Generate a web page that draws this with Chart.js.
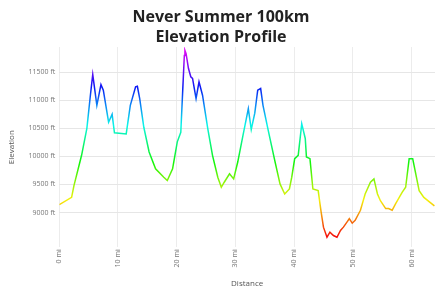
<!DOCTYPE html>
<html>
<head>
<meta charset="utf-8">
<script src="https://cdn.jsdelivr.net/npm/chart.js@4/dist/chart.umd.min.js"></script>
<style>
  html, body { margin: 0; padding: 0; background: #fff; }
  #wrap { width: 435px; height: 292px; }
</style>
</head>
<body>
<div id="wrap"><canvas id="chart"></canvas></div>
<script>
// Distance (mi) and elevation (ft)
const miles = [0, 2.1, 2.5, 3.8, 4.7, 5.3, 5.7, 6.4, 7.1, 7.5, 8.4, 9.0, 9.4, 11.4, 12.1, 13.0, 13.3, 13.7,
  14.4, 15.3, 16.4, 17.8, 18.4, 19.3, 20.1, 20.7, 21.3, 21.4, 21.6, 22.0, 22.4, 22.7, 23.3, 23.8, 24.4,
  25.3, 26.1, 27.0, 27.6, 28.1, 29.0, 29.7, 30.4, 31.3, 32.2, 32.7, 33.3, 33.8, 34.3, 34.7, 35.6, 36.7,
  37.6, 38.4, 39.2, 39.6, 40.1, 40.7, 41.3, 41.9, 42.1, 42.7, 43.2, 44.1, 44.6, 45.0, 45.6, 46.1, 46.7,
  47.3, 47.9, 48.4, 49.0, 49.4, 49.9, 50.4, 51.3, 52.1, 53.0, 53.6, 54.2, 54.7, 55.6, 56.1, 56.7, 57.3,
  58.4, 59.0, 59.6, 60.2, 61.3, 62.1, 63.9];
const elevation = [9140, 9270, 9480, 10020, 10500, 11090, 11460, 10910, 11280, 11180, 10610, 10750, 10420, 10400, 10910, 11240, 11250, 11030,
  10520, 10080, 9780, 9630, 9570, 9780, 10260, 10430, 11800, 11890, 11830, 11570, 11420, 11390, 11030, 11330, 11090,
  10490, 10020, 9630, 9450, 9540, 9690, 9600, 9900, 10380, 10850, 10480, 10770, 11180, 11210, 10910, 10460, 9930,
  9510, 9330, 9420, 9630, 9960, 10020, 10580, 10320, 9990, 9960, 9420, 9390, 9010, 8740, 8560, 8650, 8590,
  8560, 8680, 8740, 8830, 8890, 8810, 8860, 9040, 9330, 9540, 9600, 9330, 9210, 9070, 9070, 9040, 9160,
  9360, 9450, 9960, 9960, 9390, 9270, 9120];
const yTicks = [9000, 9500, 10000, 10500, 11000, 11500];
const xTicks = [0, 10, 20, 30, 40, 50, 60];

const points = miles.map((m, i) => ({ x: m, y: elevation[i] }));

// rainbow gradient tied to elevation: red at the bottom, magenta at the top
function elevationGradient(context) {
    const chart = context.chart;
    const { ctx, chartArea, scales } = chart;
    if (!chartArea) return '#0c0';
    const lo = Math.min(...elevation), hi = Math.max(...elevation);
    const y0 = scales.y.getPixelForValue(lo);
    const y1 = scales.y.getPixelForValue(hi);
    const g = ctx.createLinearGradient(0, y0, 0, y1);
    for (let i = 0; i <= 10; i++) {
        g.addColorStop(i / 10, `hsl(${i * 29.5}, 92%, 50%)`);
    }
    return g;
}

const tickFont = { family: 'Open Sans', size: 7 };

new Chart(document.getElementById('chart'), {
    type: 'line',
    data: {
        datasets: [{
            data: points,
            borderColor: elevationGradient,
            borderWidth: 1.5,
            pointRadius: 0,
            tension: 0,
            fill: false
        }]
    },
    options: {
        responsive: true,
        maintainAspectRatio: false,
        animation: false,
        layout: { padding: { left: 7, right: 0, top: 0, bottom: 3 } },
        plugins: {
            legend: { display: false },
            tooltip: { enabled: false },
            title: {
                display: true,
                text: ['Never Summer 100km', 'Elevation Profile'],
                color: '#222',
                font: { family: 'Open Sans', size: 16, weight: 'bold', lineHeight: 1.25 },
                padding: { top: 7, bottom: 0 }
            }
        },
        scales: {
            x: {
                type: 'linear',
                min: 0,
                max: 64,
                afterBuildTicks: (axis) => { axis.ticks = xTicks.map(v => ({ value: v })); },
                ticks: {
                    color: '#777',
                    font: tickFont,
                    maxRotation: 90,
                    minRotation: 90,
                    padding: 2,
                    callback: (v) => v + ' mi'
                },
                grid: { color: '#ececec', drawTicks: false },
                border: { display: false },
                title: { display: true, text: 'Distance', color: '#555', font: { family: 'Open Sans', size: 8 }, padding: { top: 10, bottom: 0 } }
            },
            y: {
                min: 8380,
                max: 11950,
                afterBuildTicks: (axis) => { axis.ticks = yTicks.map(v => ({ value: v })); },
                ticks: {
                    color: '#777',
                    font: tickFont,
                    padding: 4,
                    callback: (v) => v + ' ft'
                },
                grid: { color: '#e6e6e6', drawTicks: false },
                border: { display: false },
                title: { display: true, text: 'Elevation', color: '#555', font: { family: 'Open Sans', size: 8 }, padding: { top: 0, bottom: 8 } }
            }
        }
    }
});
</script>
</body>
</html>
